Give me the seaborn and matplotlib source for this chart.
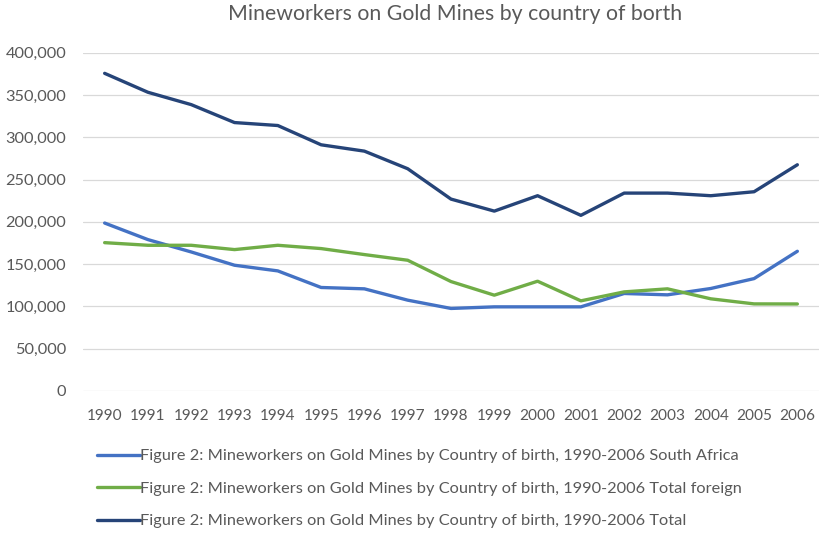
import matplotlib
matplotlib.use("Agg")
import matplotlib.pyplot as plt
import seaborn as sns
import pandas as pd
from matplotlib.ticker import FuncFormatter
from matplotlib.lines import Line2D

years = [str(y) for y in range(1990, 2007)]
south_africa = [198600, 179000, 164400, 148700, 142000, 122400, 120800, 107400, 97600,
                99500, 99500, 99500, 115300, 113700, 121200, 132900, 165200]
total_foreign = [175400, 172300, 172300, 167200, 172300, 168400, 161300, 154600, 129400,
                 113300, 129800, 106600, 117200, 120800, 109000, 103000, 102900]
total = [375600, 353200, 338600, 317400, 313900, 291100, 283600, 262800, 226900,
         212700, 230900, 207700, 234000, 234000, 230900, 235600, 267500]

prefix = "Figure 2: Mineworkers on Gold Mines by Country of birth, 1990-2006 "
series_names = [prefix + "South Africa", prefix + "Total foreign", prefix + "Total"]
colors = ["#4472C4", "#70AD47", "#264478"]
title = "Mineworkers on Gold Mines by country of borth"

sns.set_theme(style="white")
plt.rcParams["font.family"] = ["Lato", "DejaVu Sans"]

rows = []
for name, vals in zip(series_names, [south_africa, total_foreign, total]):
    for i, (y, v) in enumerate(zip(years, vals)):
        rows.append({"idx": i, "year": y, "value": v, "series": name})
df = pd.DataFrame(rows)

fig = plt.figure(figsize=(8.21, 5.34), dpi=100)
ax = fig.add_axes([83 / 821, 1 - 391 / 534, (819 - 83) / 821, (391 - 52.7) / 534])

sns.lineplot(data=df, x="idx", y="value", hue="series", palette=colors,
             linewidth=2.4, ax=ax, legend=False, sort=False)

ax.set_xlim(-0.5, len(years) - 0.5)
ax.set_ylim(0, 400000)
ax.set_xticks(range(len(years)))
ax.set_xticklabels(years)
ax.set_yticks(range(0, 400001, 50000))
ax.yaxis.set_major_formatter(FuncFormatter(lambda v, p: f"{int(v):,}"))
ax.grid(axis="y", color="#D9D9D9", linewidth=0.9)
ax.set_axisbelow(True)
for s in ax.spines.values():
    s.set_visible(False)
ax.tick_params(axis="x", length=0, labelsize=11.1, labelcolor="#595959", pad=13)
ax.tick_params(axis="y", length=0, labelsize=11.8, labelcolor="#595959", pad=12)
ax.set_xlabel("")
ax.set_ylabel("")

fig.text(455 / 821, 1 - 14 / 534, title, ha="center", va="center",
         fontsize=15.3, color="#595959")

handles = [Line2D([0], [0], color=c, linewidth=2.4) for c in colors]
fig.legend(handles, series_names, loc="center left",
           bbox_to_anchor=(97 / 821, 1 - 488.5 / 534), frameon=False,
           fontsize=11.8, labelcolor="#595959", handlelength=2.6,
           handletextpad=0.05, labelspacing=1.1, borderpad=0, borderaxespad=0)

fig.savefig("out.png", dpi=100)
